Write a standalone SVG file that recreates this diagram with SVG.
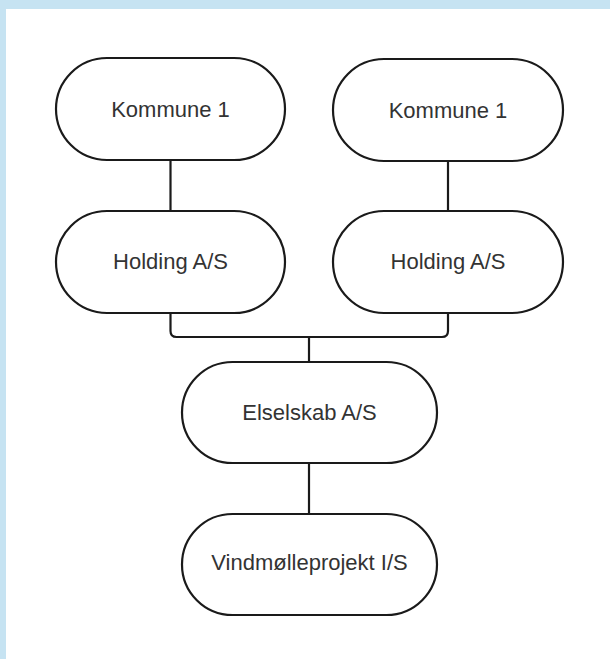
<svg xmlns="http://www.w3.org/2000/svg" width="610" height="659" viewBox="0 0 610 659">
<style>
.n{fill:#fff;stroke:#1a1a1a;stroke-width:2.2}
.t{font-family:"Liberation Sans",Arial,sans-serif;font-size:22px;fill:#333;text-anchor:middle}
.c{fill:none;stroke:#1a1a1a;stroke-width:2.2}
</style>
<rect x="0" y="0" width="610" height="659" fill="#fff"/>
<rect x="0" y="0" width="610" height="9" fill="#c6e3f2"/>
<rect x="0" y="0" width="6" height="659" fill="#c6e3f2"/>
<g id="connectors">
<line class="c" x1="170.5" y1="160" x2="170.5" y2="211"/>
<line class="c" x1="448" y1="161" x2="448" y2="211"/>
<path class="c" d="M170.5 313 V331 Q170.5 337 176.5 337 H442 Q448 337 448 331 V313"/>
<path class="c" d="M309 337 V362"/>
<line class="c" x1="309" y1="463" x2="309" y2="514"/>
</g>
<g id="kommune1a"><rect class="n" x="56" y="58" width="229" height="102" rx="51"/><text class="t" x="170.5" y="117">Kommune 1</text></g>
<g id="kommune1b"><rect class="n" x="333" y="59" width="230" height="102" rx="51"/><text class="t" x="448" y="118">Kommune 1</text></g>
<g id="holdinga"><rect class="n" x="56" y="211" width="229" height="102" rx="51"/><text class="t" x="170.5" y="269">Holding A/S</text></g>
<g id="holdingb"><rect class="n" x="333" y="211" width="230" height="102" rx="51"/><text class="t" x="448" y="269">Holding A/S</text></g>
<g id="elselskab"><rect class="n" x="182" y="362" width="255" height="101" rx="50.5"/><text class="t" x="309.5" y="420">Elselskab A/S</text></g>
<g id="vindmolle"><rect class="n" x="182" y="514" width="255" height="101" rx="50.5"/><text class="t" x="309.5" y="570">Vindmølleprojekt I/S</text></g>
</svg>
